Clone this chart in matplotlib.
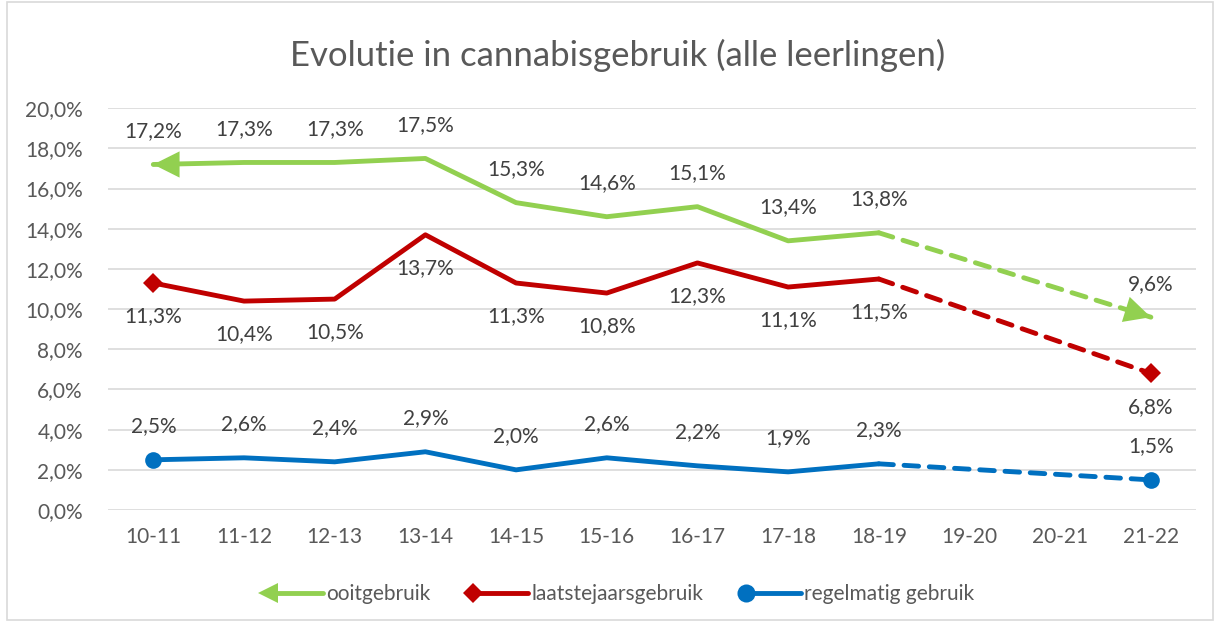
import numpy as np
import matplotlib.pyplot as plt
from matplotlib.lines import Line2D
from matplotlib.legend_handler import HandlerBase
from matplotlib.patches import Rectangle

plt.rcParams['font.family'] = ['Lato', 'DejaVu Sans']

# ── Data ──────────────────────────────────────────────────────────────────────
years = ["10-11", "11-12", "12-13", "13-14", "14-15", "15-16",
         "16-17", "17-18", "18-19", "19-20", "20-21", "21-22"]
ooit = [17.2, 17.3, 17.3, 17.5, 15.3, 14.6, 15.1, 13.4, 13.8, np.nan, np.nan, 9.6]
laatste = [11.3, 10.4, 10.5, 13.7, 11.3, 10.8, 12.3, 11.1, 11.5, np.nan, np.nan, 6.8]
regel = [2.5, 2.6, 2.4, 2.9, 2.0, 2.6, 2.2, 1.9, 2.3, np.nan, np.nan, 1.5]

SERIES = [
    ("ooitgebruik", ooit, "#92D050", "arrow", +1),
    ("laatstejaarsgebruik", laatste, "#C00000", "D", -1),
    ("regelmatig gebruik", regel, "#0070C0", "o", +1),
]

GRID = "#D9D9D9"
TXT = "#595959"
FS = 15


class LeftMarkerHandler(HandlerBase):
    """Legend entry: line with a single marker at its left end."""
    def __init__(self, marker, ms):
        super().__init__()
        self.marker, self.ms = marker, ms

    def create_artists(self, legend, orig, xdescent, ydescent, width, height,
                       fontsize, trans):
        y = height / 2 - ydescent
        c = orig.get_color()
        ln = Line2D([-xdescent + 4, width - xdescent], [y, y], color=c,
                    lw=3.5, solid_capstyle="round", transform=trans)
        mk = Line2D([-xdescent + 4], [y], marker=self.marker, ms=self.ms,
                    color=c, markeredgewidth=0, transform=trans)
        return [ln, mk]


fig = plt.figure(figsize=(12.2, 6.22), dpi=100)
fig.patches.append(Rectangle((0.006, 0.003), 0.988, 0.994, transform=fig.transFigure,
                             fill=False, edgecolor=GRID, lw=1.2))
ax = fig.add_axes([0.0885, 0.180, 0.892, 0.646])

x = np.arange(len(years))
solid = slice(0, 9)
arrow = dict(arrowstyle="-|>,head_length=0.9,head_width=0.45", lw=0,
             shrinkA=0, shrinkB=0, mutation_scale=21)

for name, vals, col, mk, side in SERIES:
    v = np.array(vals)
    ax.plot(x[solid], v[solid], color=col, lw=3.5, solid_capstyle="round",
            solid_joinstyle="round", zorder=3)
    ax.plot([x[8], x[11]], [v[8], v[11]], color=col, lw=3.5, ls=(0, (3, 2.2)),
            dash_capstyle="round", zorder=3)
    if mk == "arrow":
        ax.annotate("", xy=(x[0], v[0]), xytext=(x[0] + 0.35, v[0]),
                    arrowprops=dict(arrow, color=col), zorder=4)
        slope = (v[11] - v[8]) / (x[11] - x[8])
        ax.annotate("", xy=(x[11], v[11]), xytext=(x[11] - 0.3, v[11] - 0.3 * slope),
                    arrowprops=dict(arrow, color=col), zorder=4)
    else:
        ms = 10 if mk == "D" else 12
        ax.plot([x[0], x[11]], [v[0], v[11]], ls="none", marker=mk, ms=ms,
                color=col, markeredgewidth=0, zorder=4)
    for xi, vi in zip(x, v):
        if np.isnan(vi):
            continue
        ax.annotate(f"{vi:.1f}%".replace(".", ","), (xi, vi),
                    xytext=(0, 24 * side), textcoords="offset points",
                    ha="center", va="center", fontsize=FS, color="#404040")

ax.set_xlim(-0.5, len(years) - 0.5)
ax.set_ylim(0, 20)
ax.set_yticks(np.arange(0, 21, 2))
ax.set_yticklabels([f"{t:.1f}%".replace(".", ",") for t in np.arange(0, 21, 2)])
ax.set_xticks(x)
ax.set_xticklabels(years)
ax.grid(axis="y", color=GRID, lw=1.2)
ax.set_axisbelow(True)
for s in ax.spines.values():
    s.set_visible(False)
ax.tick_params(length=0, labelsize=FS, colors=TXT, pad=12)
ax.tick_params(axis="y", pad=18)

fig.suptitle("Evolutie in cannabisgebruik (alle leerlingen)", fontsize=25,
             color=TXT, x=0.506, y=0.937)

handles = [Line2D([0], [0], color=c) for _, _, c, _, _ in SERIES]
handler_map = {
    handles[0]: LeftMarkerHandler("<", 14),
    handles[1]: LeftMarkerHandler("D", 10),
    handles[2]: LeftMarkerHandler("o", 13),
}
fig.legend(handles, [s[0] for s in SERIES], handler_map=handler_map,
           loc="center", bbox_to_anchor=(0.507, 0.045), ncol=3, frameon=False,
           fontsize=FS, labelcolor=TXT, handlelength=2.9, handletextpad=0.15,
           columnspacing=1.8)

fig.savefig("out.png", dpi=100)
